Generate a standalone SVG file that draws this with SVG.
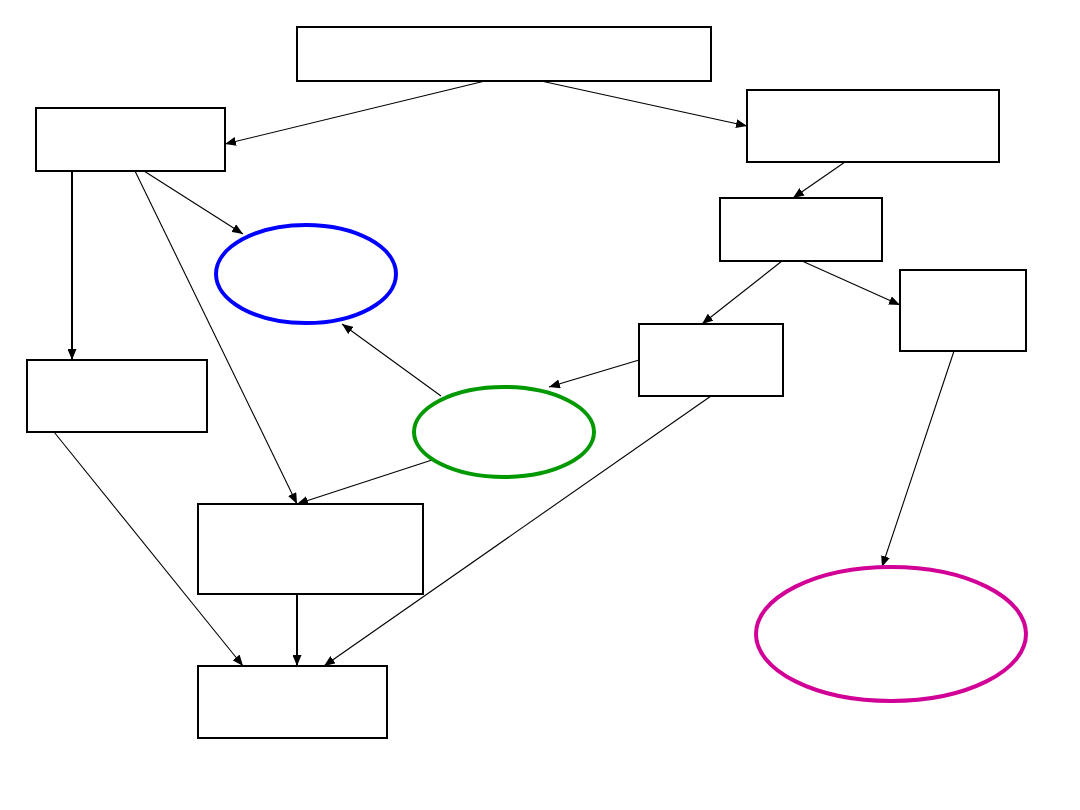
<svg xmlns="http://www.w3.org/2000/svg" width="1080" height="810" viewBox="0 0 1080 810">
<defs>
<marker id="ah" markerUnits="userSpaceOnUse" markerWidth="11" markerHeight="9" refX="11" refY="4.5" orient="auto">
<path d="M0,0 L11,4.5 L0,9 Z" fill="#000"/>
</marker>
<style>
.box{fill:#fff;stroke:#000;stroke-width:2}
.c{stroke:#000;stroke-width:1.1;fill:none;marker-end:url(#ah)}
.t{stroke-width:2}
</style>
</defs>
<rect width="1080" height="810" fill="#fff"/>
<g id="connectors">
<line class="c" x1="485" y1="81" x2="225" y2="144"/>
<line class="c" x1="541" y1="81" x2="747" y2="126"/>
<line class="c" x1="845" y1="162" x2="793" y2="198"/>
<line class="c" x1="782" y1="261" x2="702" y2="324"/>
<line class="c" x1="802" y1="261" x2="900" y2="305"/>
<line class="c" x1="954" y1="351" x2="882" y2="567"/>
<line class="c" x1="639" y1="360" x2="549" y2="387"/>
<line class="c" x1="711" y1="396" x2="324" y2="666"/>
<line class="c" x1="441" y1="396" x2="342" y2="324"/>
<line class="c" x1="432" y1="460" x2="297" y2="504"/>
<line class="c" x1="144" y1="171" x2="243" y2="234"/>
<line class="c" x1="135" y1="171" x2="297" y2="504"/>
<line class="c t" x1="72" y1="171" x2="72" y2="360"/>
<line class="c" x1="54" y1="432" x2="243" y2="666"/>
<line class="c t" x1="297" y1="594" x2="297" y2="666"/>
</g>
<g id="top"><rect class="box" x="297" y="27" width="414" height="54"/></g>
<g id="boxA"><rect class="box" x="36" y="108" width="189" height="63"/></g>
<g id="boxB"><rect class="box" x="747" y="90" width="252" height="72"/></g>
<g id="boxC"><rect class="box" x="720" y="198" width="162" height="63"/></g>
<g id="boxD"><rect class="box" x="900" y="270" width="126" height="81"/></g>
<g id="boxE"><rect class="box" x="639" y="324" width="144" height="72"/></g>
<g id="boxF"><rect class="box" x="27" y="360" width="180" height="72"/></g>
<g id="boxG"><rect class="box" x="198" y="504" width="225" height="90"/></g>
<g id="boxH"><rect class="box" x="198" y="666" width="189" height="72"/></g>
<g id="blue"><ellipse cx="306" cy="274" rx="90" ry="49" fill="none" stroke="#0000ff" stroke-width="4"/></g>
<g id="green"><ellipse cx="504" cy="432" rx="90" ry="45" fill="none" stroke="#009900" stroke-width="4"/></g>
<g id="magenta"><ellipse cx="891" cy="634" rx="135" ry="67" fill="none" stroke="#d10096" stroke-width="4"/></g>
</svg>
